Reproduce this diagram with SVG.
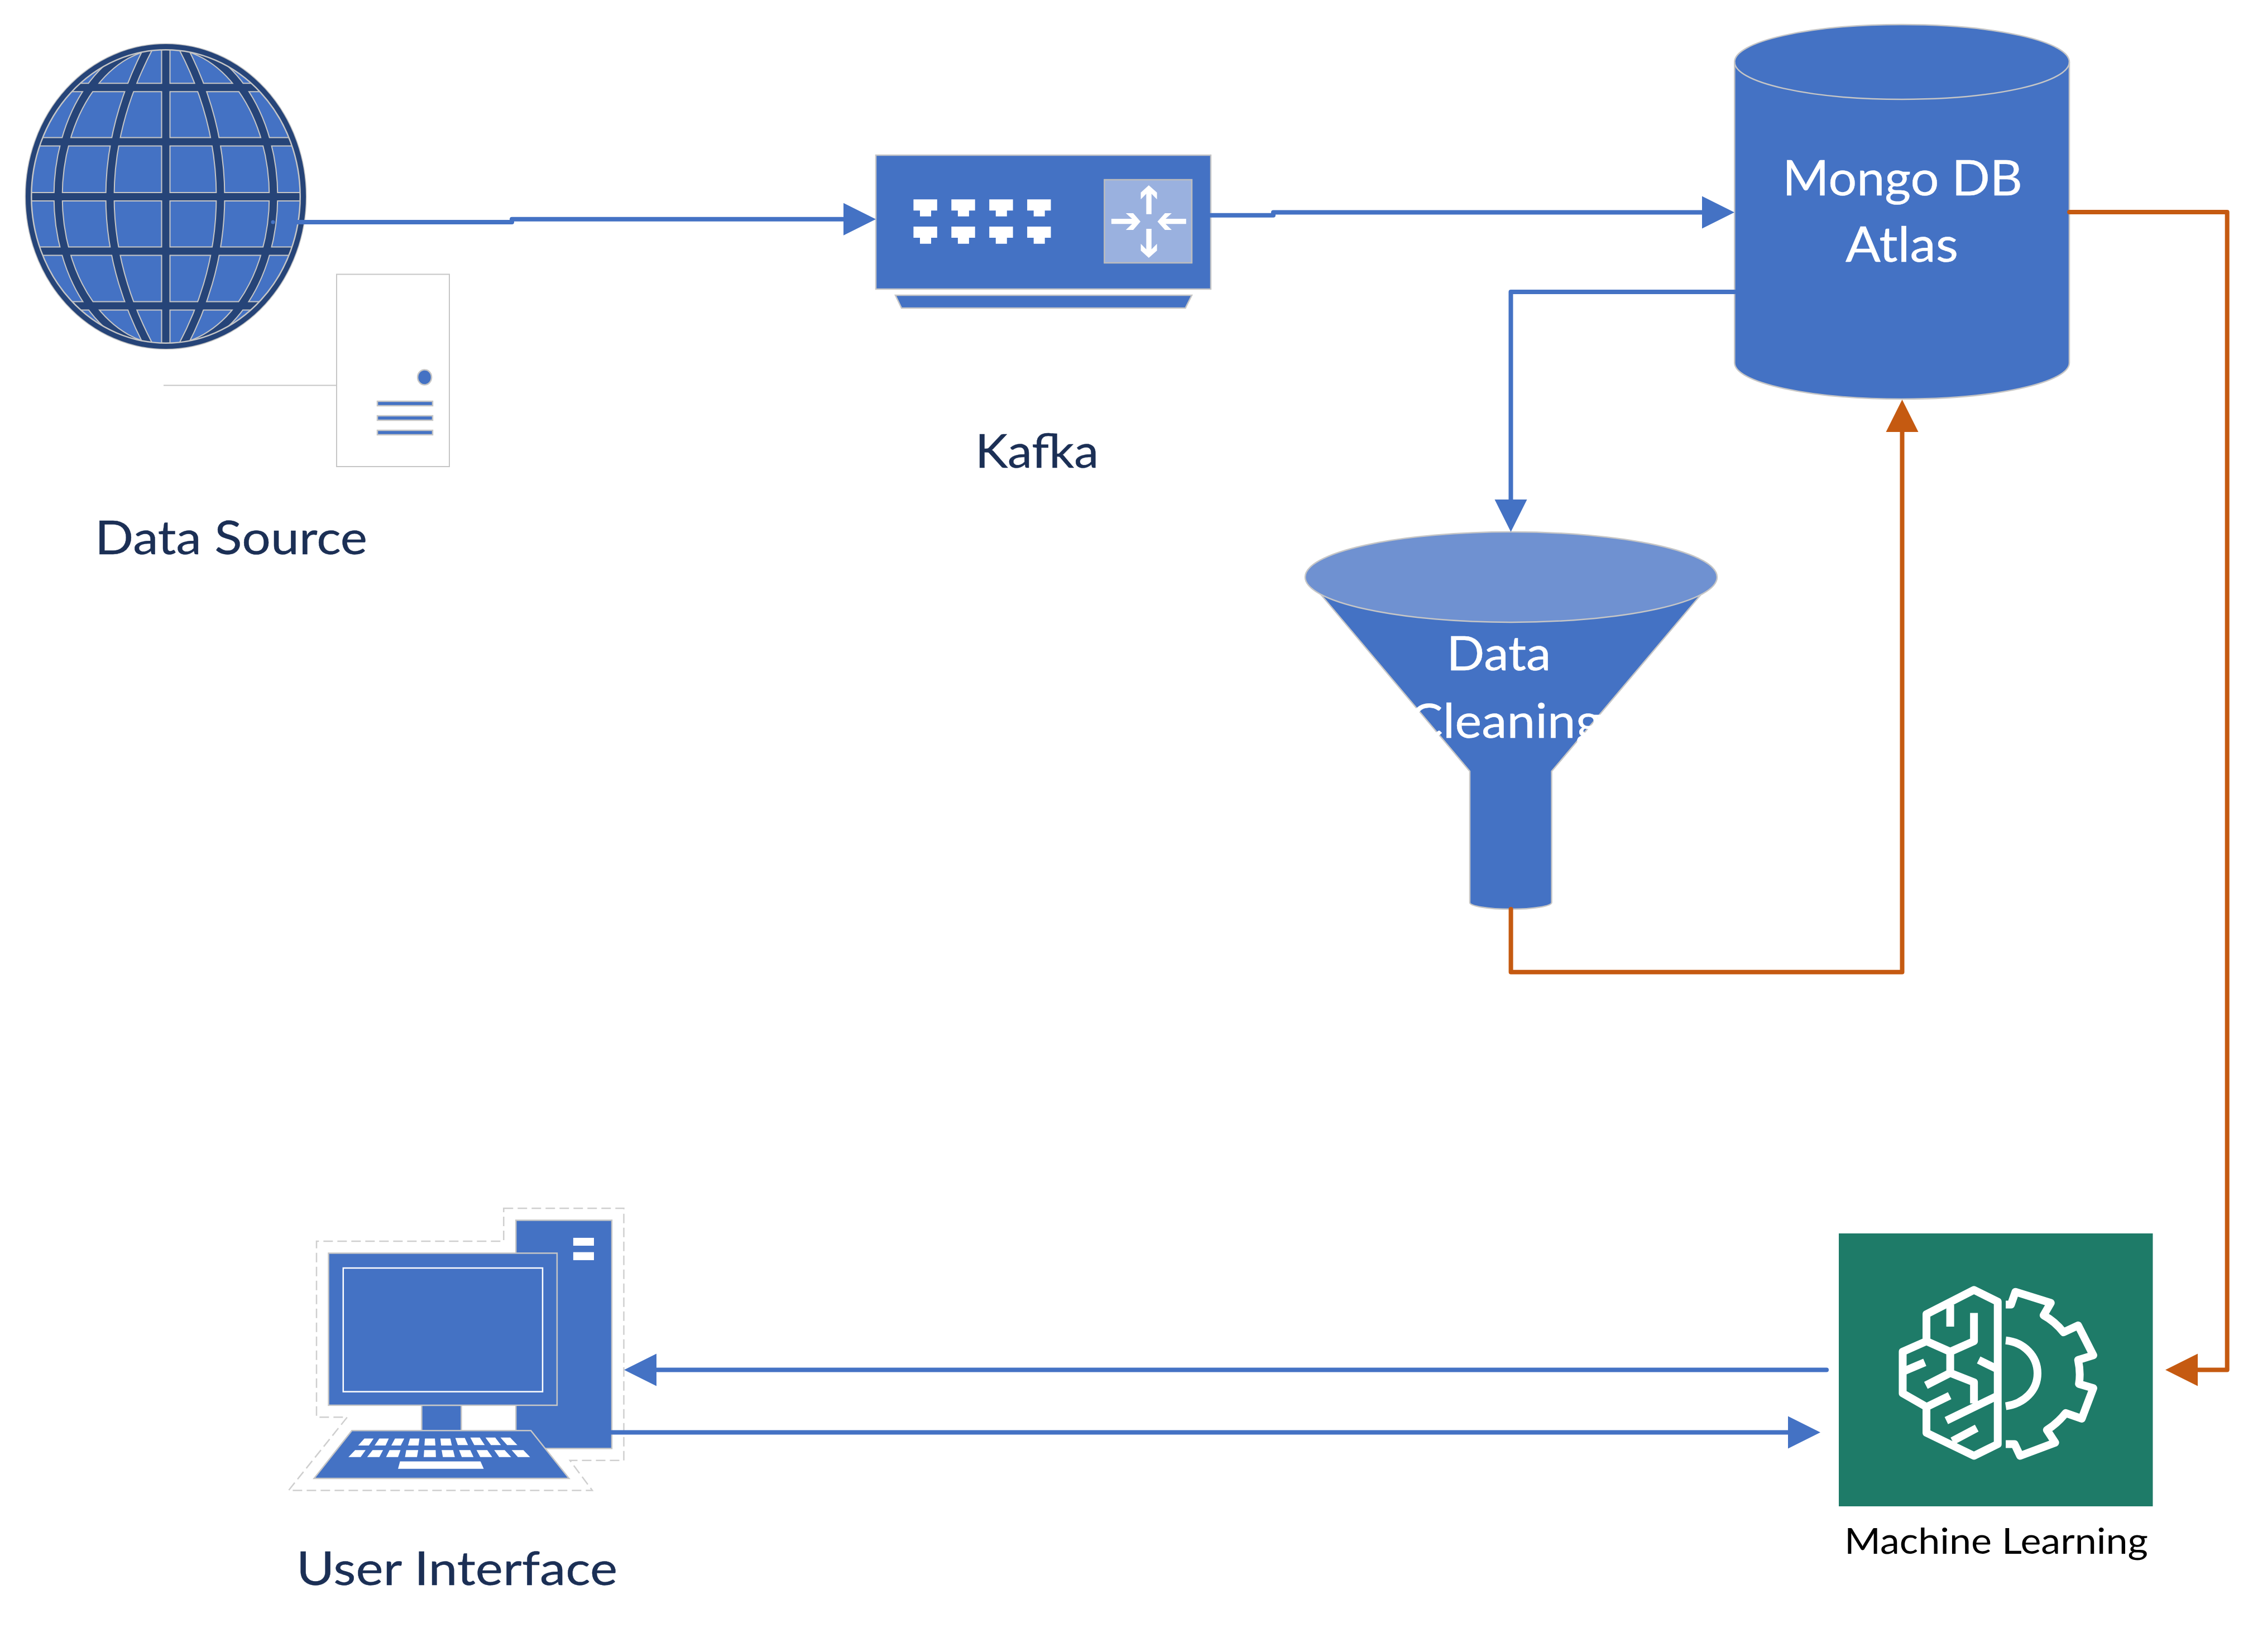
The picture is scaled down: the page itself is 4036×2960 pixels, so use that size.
<svg xmlns="http://www.w3.org/2000/svg" xmlns:xlink="http://www.w3.org/1999/xlink" width="4036" height="2960" viewBox="0 0 4036 2960">
<style>
.n{fill:#4472C4;stroke:#c6c6c6;stroke-width:2.5}
.w{fill:#fff}
.t{font-family:"Lato","Noto Sans",sans-serif;fill:#1B2F55;stroke:#1B2F55;stroke-width:0.4}
.tw{font-family:"Lato","Noto Sans",sans-serif;fill:#fff;stroke:#fff;stroke-width:0.4}
.c{fill:none;stroke-width:8;stroke-linejoin:round;stroke-linecap:round}
.b{stroke:#4472C4}
.o{stroke:#C55A11}
.ic{fill:none;stroke:#fff;stroke-width:14;stroke-linejoin:round;vector-effect:non-scaling-stroke}
</style>
<defs>
<clipPath id="gc"><ellipse cx="297" cy="352" rx="248" ry="270"/></clipPath>
<path id="grid" fill="none" d="M40,156.700H560M40,254H560M40,352.500H560M40,450H560M40,548H560M297,70V630M267,84C222,170 197,260 197,352C197,445 222,535 267,620M327,84C372,170 395,260 395,352C395,445 372,535 327,620M297,79A193,273 0 0 0 297,625M297,79A193,273 0 0 1 297,625"/>
<marker id="ab" markerUnits="userSpaceOnUse" markerWidth="60" markerHeight="60" refX="10" refY="30" orient="auto" viewBox="0 0 60 60"><path d="M0,1L58,30L0,59Z" fill="#4472C4"/></marker>
<marker id="ao" markerUnits="userSpaceOnUse" markerWidth="60" markerHeight="60" refX="10" refY="30" orient="auto" viewBox="0 0 60 60"><path d="M0,1L58,30L0,59Z" fill="#C55A11"/></marker>
</defs>

<g id="data-source">
<g id="globe">
<ellipse cx="297" cy="352" rx="251" ry="273" fill="#4472C4" stroke="#c6c6c6" stroke-width="2"/>
<g clip-path="url(#gc)">
<use xlink:href="#grid" href="#grid" stroke="#c6c6c6" stroke-width="17"/>
<use xlink:href="#grid" href="#grid" stroke="#264478" stroke-width="13"/>
</g>
<ellipse cx="297" cy="352" rx="246" ry="268" fill="none" stroke="#c6c6c6" stroke-width="13"/>
<ellipse cx="297" cy="352" rx="246.500" ry="268.500" fill="none" stroke="#264478" stroke-width="9"/>
<circle cx="489" cy="398" r="3.500" fill="#4472C4"/>
</g>
<g id="server">
<path d="M293,690.500H603" fill="none" stroke="#c6c6c6" stroke-width="2"/>
<rect x="603" y="491.500" width="202" height="344.500" fill="#fff" stroke="#c6c6c6" stroke-width="2"/>
<ellipse cx="760.600" cy="676" rx="12.500" ry="13.500" class="n"/>
<rect x="676" y="719" width="99" height="8" class="n"/>
<rect x="676" y="745" width="99" height="8" class="n"/>
<rect x="676" y="771" width="99" height="8" class="n"/>
</g>
<text class="t" x="170" y="993" font-size="84" textLength="488" lengthAdjust="spacingAndGlyphs">Data Source</text>
</g>

<g id="kafka">
<rect x="1569" y="278" width="600" height="240" class="n"/>
<path d="M1604,529H2135L2123.500,552H1615Z" class="n"/>
<g class="w">
<path d="M1636.400,357.300H1678.800V377.300H1668V387.700H1648V377.300H1636.400Z"/>
<path d="M1704.300,357.300H1746.700V377.300H1735.900V387.700H1715.900V377.300H1704.300Z"/>
<path d="M1772.200,357.300H1814.600V377.300H1803.800V387.700H1783.800V377.300H1772.200Z"/>
<path d="M1840.100,357.300H1882.500V377.300H1871.700V387.700H1851.700V377.300H1840.100Z"/>
<path d="M1636.400,406H1678.800V426H1668V436.700H1648V426H1636.400Z"/>
<path d="M1704.300,406H1746.700V426H1735.900V436.700H1715.900V426H1704.300Z"/>
<path d="M1772.200,406H1814.600V426H1803.800V436.700H1783.800V426H1772.200Z"/>
<path d="M1840.100,406H1882.500V426H1871.700V436.700H1851.700V426H1840.100Z"/>
</g>
<rect x="1978.400" y="322" width="156.600" height="149" fill="#9AB1DF" stroke="#bdbdbd" stroke-width="2.500"/>
<g class="w">
<path d="M2057.900,332L2072.600,345V357.300L2062.800,347.300V383.700H2053.400V347.300L2043.600,357.300V345Z"/>
<path d="M2057.900,462L2072.600,449V436.700L2062.800,446.700V410H2053.400V446.700L2043.600,436.700V449Z"/>
<path d="M2043,397L2030,382H2016.800L2028,392H1990.900V401.300H2028L2016.800,412H2030Z"/>
<path d="M2073.500,397L2086.900,382H2099L2088,392H2124.800V401.300H2088L2099,412H2086.900Z"/>
</g>
<text class="t" x="1747" y="838" font-size="84" textLength="221" lengthAdjust="spacingAndGlyphs">Kafka</text>
</g>

<g id="mongo-db">
<path d="M3107.300,111V650A299.800,65 0 0 0 3707,650V111A299.800,67 0 0 0 3107.300,111Z" class="n"/>
<path d="M3107.300,111A299.800,67 0 0 0 3707,111" fill="none" stroke="#c6c6c6" stroke-width="2.500"/>
<text class="tw" x="3408" y="349.600" font-size="87" text-anchor="middle" textLength="430" lengthAdjust="spacingAndGlyphs">Mongo DB</text>
<text class="tw" x="3407" y="469" font-size="87" text-anchor="middle" textLength="202" lengthAdjust="spacingAndGlyphs">Atlas</text>
</g>

<g id="data-cleaning">
<path d="M2366,1065L2633,1382V1617A73.300,12 0 0 0 2779.600,1617V1382L3047.400,1065Z" class="n"/>
<ellipse cx="2707" cy="1034" rx="369" ry="81" fill="#6F91D1" stroke="#c6c6c6" stroke-width="2.500"/>
<text class="tw" x="2685" y="1201" font-size="85" text-anchor="middle" textLength="187" lengthAdjust="spacingAndGlyphs">Data</text>
<text class="tw" x="2697" y="1322" font-size="85" text-anchor="middle" textLength="346" lengthAdjust="spacingAndGlyphs">Cleaning</text>
</g>

<g id="user-interface">
<path d="M902.300,2165H1117.500V2616.800H1021L1061,2670.400H517L622,2539.300H567V2224H902.300Z" fill="none" stroke="#cfcfcf" stroke-width="2.500" stroke-dasharray="17 8"/>
<rect x="924.200" y="2186.400" width="171.800" height="409" class="n"/>
<rect x="1026.900" y="2217.900" width="37.100" height="14.100" class="w"/>
<rect x="1026.900" y="2243.600" width="37.100" height="14.300" class="w"/>
<rect x="755.400" y="2517.900" width="71" height="46" class="n"/>
<rect x="588.500" y="2245.400" width="409.400" height="272.500" class="n"/>
<rect x="614.800" y="2272" width="357.200" height="221.600" fill="#4472C4" stroke="#fff" stroke-width="2.500"/>
<path d="M630.400,2563.200H951L1019.300,2649H562.600Z" class="n"/>
<g class="w" transform="translate(480 2140) scale(0.4464 0.3571)">
<path d="M387,1225H424L405,1260H362Z"/><path d="M447,1225H485L472,1260H428Z"/><path d="M510,1225H547L533,1260H495Z"/><path d="M570,1225H608L604,1260H562Z"/><path d="M630,1225H670L672,1260H628Z"/><path d="M692,1225H732L738,1260H695Z"/><path d="M752,1222H790L803,1258H762Z"/><path d="M812,1220H850L870,1258H828Z"/><path d="M873,1220H912L935,1258H895Z"/><path d="M933,1220H972L1001,1258H960Z"/>
<path d="M350,1283H392L372,1318H323Z"/><path d="M420,1283H462L447,1318H398Z"/><path d="M488,1283H532L522,1318H474Z"/><path d="M555,1283H603L598,1318H550Z"/><path d="M627,1283H673L674,1318H625Z"/><path d="M697,1283H743L750,1318H702Z"/><path d="M767,1283H812L825,1318H778Z"/><path d="M837,1283H880L900,1318H852Z"/><path d="M908,1283H950L976,1318H928Z"/><path d="M978,1283H1025L1052,1318H1003Z"/>
<path d="M530,1340H853L866,1377H522Z"/>
</g>
<text class="t" x="531" y="2840" font-size="84" textLength="575" lengthAdjust="spacingAndGlyphs">User Interface</text>
</g>

<g id="machine-learning">
<rect x="3294" y="2210" width="562.500" height="489" fill="#1E7B68"/>
<g transform="translate(3260 2180) scale(0.4949 0.4209)">
<path class="ic" d="M644,362L558,312L386,415V530L300,575V752L386,810V920L558,1018L644,968Z"/>
<path class="ic" d="M472,375V468M558,410V530L472,575L386,530M472,575V665L558,705V795M300,660L380,620M384,718L472,665M386,810L470,762M458,868L644,762M480,955L568,900M575,610L644,650"/>
<path class="ic" d="M673,527C740,535 788,595 788,667C788,740 740,795 673,807"/>
<path class="ic" d="M673,374H692L708,320L836,367L810,420Q850,445 882,492L935,463L990,590L935,610Q945,665 938,712L990,730L948,860L890,836Q860,880 822,908L852,962L725,1018L705,968H673"/>
</g>
<text x="3304" y="2784" font-family="Lato,'Noto Sans',sans-serif" font-size="63" fill="#000" textLength="544" lengthAdjust="spacingAndGlyphs">Machine Learning</text>
</g>

<g id="connectors">
<path class="c b" marker-end="url(#ab)" d="M534,398H917V392.700H1521"/>
<path class="c b" marker-end="url(#ab)" d="M2169,385.700H2281V380.500H3059"/>
<path class="c b" marker-end="url(#ab)" d="M3107,523H2706.500V905"/>
<path class="c o" marker-end="url(#ao)" d="M2706.600,1629V1741.700H3407.500V764"/>
<path class="c o" marker-end="url(#ao)" d="M3707,380H3989.700V2454.400H3927"/>
<path class="c b" marker-end="url(#ab)" d="M3272,2454.500H1166"/>
<path class="c b" marker-end="url(#ab)" d="M1096,2566.500H3213"/>
</g>
</svg>
